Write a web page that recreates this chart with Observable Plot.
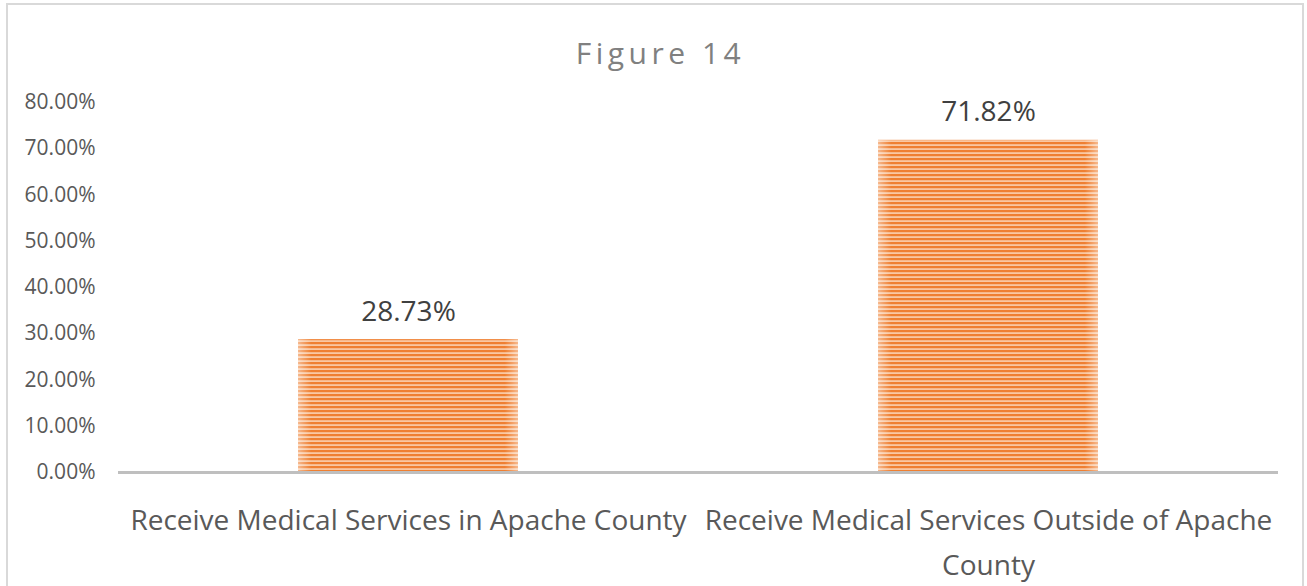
<!DOCTYPE html>
<html>
<head>
<meta charset="utf-8">
<script src="https://cdn.jsdelivr.net/npm/d3@7"></script>
<script src="https://cdn.jsdelivr.net/npm/@observablehq/plot@0.6"></script>
<style>
  html, body { margin: 0; padding: 0; background: #fff; }
  body { width: 1307px; height: 586px; position: relative; overflow: hidden; font-family: "Open Sans", sans-serif; }
  #frame { position: absolute; left: 6px; top: 3px; width: 1298px; height: 600px; border: 2px solid #d9d9d9; box-sizing: border-box; }
  #title { position: absolute; left: 0; top: 0; width: 1307px; height: 90px; text-align: center; font-size: 30px; letter-spacing: 4.5px; color: #808080; line-height: 1; padding-top: 38px; padding-left: 14px; box-sizing: border-box; font-family: "Open Sans", sans-serif; }
  #chart { position: absolute; left: 0; top: 90px; }
</style>
</head>
<body>
<div id="frame"></div>
<div id="title">Figure 14</div>
<div id="chart"></div>
<script>
const categories = ["Receive Medical Services in Apache County", "Receive Medical Services Outside of Apache County"];
const tickLabels = ["Receive Medical Services in Apache County", "Receive Medical Services Outside of Apache\nCounty"];
const values = [0.2873, 0.7182];
const valueLabels = ["28.73%", "71.82%"];
const yTicks = [0, 0.1, 0.2, 0.3, 0.4, 0.5, 0.6, 0.7, 0.8];

const data = categories.map((c, i) => ({category: c, value: values[i], label: valueLabels[i]}));

const chart = Plot.plot({
  width: 1307,
  height: 496,
  marginTop: 12,
  marginBottom: 114,
  marginLeft: 118,
  marginRight: 29,
  style: {fontFamily: "Open Sans, sans-serif", background: "transparent", overflow: "visible"},
  x: {domain: categories, paddingInner: 0.62, paddingOuter: 0.31, label: null},
  y: {domain: [0, 0.8], label: null},
  marks: [
    Plot.barY(data, {x: "category", y: "value", fill: "url(#stripes)"}),
    Plot.barY(data, {x: "category", y: "value", fill: "url(#edge)"}),
    Plot.ruleY([0], {stroke: "#bfbfbf", strokeWidth: 3}),
    Plot.text(data, {x: "category", y: "value", text: "label", dy: -19, lineAnchor: "bottom", fontSize: 28, fill: "#404040"}),
    Plot.axisY({ticks: yTicks, tickFormat: d3.format(".2%"), tickSize: 0, tickPadding: 23, fontSize: 21, color: "#595959", label: null}),
    Plot.axisX({tickSize: 0, tickPadding: 26, fontSize: 28, color: "#595959", lineHeight: 1.6, tickFormat: (d) => tickLabels[categories.indexOf(d)], label: null})
  ]
});

const ns = "http://www.w3.org/2000/svg";
const defs = document.createElementNS(ns, "defs");
defs.innerHTML = `
  <pattern id="stripes" patternUnits="userSpaceOnUse" width="8" height="4">
    <rect x="0" y="0" width="8" height="4" fill="#f9c8a3"/>
    <rect x="0" y="0" width="8" height="2.2" fill="#ef7f31"/>
  </pattern>
  <linearGradient id="edge" x1="0" y1="0" x2="1" y2="0">
    <stop offset="0" stop-color="#ffffff" stop-opacity="0.45"/>
    <stop offset="0.06" stop-color="#ffffff" stop-opacity="0"/>
    <stop offset="0.94" stop-color="#ffffff" stop-opacity="0"/>
    <stop offset="1" stop-color="#ffffff" stop-opacity="0.45"/>
  </linearGradient>`;
chart.insertBefore(defs, chart.firstChild);
document.getElementById("chart").appendChild(chart);
</script>
</body>
</html>
